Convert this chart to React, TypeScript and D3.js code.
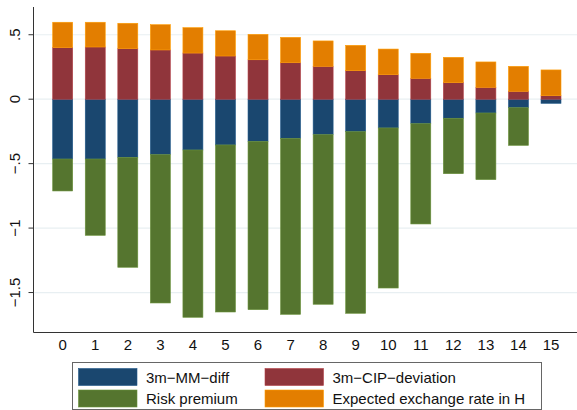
import { useEffect, useRef } from "react";
import * as d3 from "d3";

// horizons (months)
const categories = ["0", "1", "2", "3", "4", "5", "6", "7", "8", "9", "10", "11", "12", "13", "14", "15"];

// decomposition components
const mmDiff = [-0.464, -0.464, -0.451, -0.43, -0.394, -0.355, -0.327, -0.304, -0.275, -0.252, -0.223, -0.19, -0.148, -0.107, -0.066, -0.032];
const riskPremium = [-0.248, -0.592, -0.853, -1.151, -1.298, -1.296, -1.306, -1.365, -1.316, -1.409, -1.242, -0.778, -0.43, -0.517, -0.292, 0];
const cipDeviation = [0.4, 0.405, 0.392, 0.382, 0.358, 0.335, 0.306, 0.283, 0.255, 0.221, 0.19, 0.162, 0.128, 0.092, 0.061, 0.027];
const expectedRate = [0.197, 0.192, 0.197, 0.196, 0.197, 0.196, 0.197, 0.197, 0.197, 0.197, 0.199, 0.194, 0.197, 0.197, 0.194, 0.2];

const yTicks = [-1.5, -1, -0.5, 0, 0.5];
const yTickLabels = ["−1.5", "−1", "−.5", "0", ".5"];

const series = [
  { key: "mm", label: "3m−MM−diff", color: "#1a476f", values: mmDiff },
  { key: "risk", label: "Risk premium", color: "#55752f", values: riskPremium },
  { key: "cip", label: "3m−CIP−deviation", color: "#90353b", values: cipDeviation },
  { key: "exp", label: "Expected exchange rate in H", color: "#e37e00", values: expectedRate },
];

function App() {
  const ref = useRef<SVGSVGElement>(null);

  useEffect(() => {
    const width = 577;
    const height = 410;
    const font = "'Liberation Sans', Arial, sans-serif";

    const svg = d3.select(ref.current);
    svg.selectAll("*").remove();
    svg.attr("width", width).attr("height", height);

    const left = 33.5;
    const top = 7;
    const bottom = 332.5;

    const x = d3.scaleBand<string>()
      .domain(categories)
      .range([52.7, 561])
      .paddingInner(0.386)
      .paddingOuter(0);

    const y = d3.scaleLinear()
      .domain([-1.8, 0.7])
      .range([331.2, 8.97]);

    // table for the stack
    const rows = categories.map((c, i) => {
      const r: any = { cat: c };
      series.forEach(s => (r[s.key] = s.values[i]));
      return r;
    });

    const stacked = d3.stack<any>()
      .keys(series.map(s => s.key))
      .offset(d3.stackOffsetDiverging)(rows);

    // gridlines
    svg.append("g")
      .selectAll("line")
      .data(yTicks)
      .join("line")
      .attr("x1", left + 1)
      .attr("x2", width)
      .attr("y1", d => y(d))
      .attr("y2", d => y(d))
      .attr("stroke", "#e8eff2")
      .attr("stroke-width", 1.2);

    // bars
    stacked.forEach((layer, li) => {
      const color = series[li].color;
      svg.append("g")
        .selectAll("rect")
        .data(layer)
        .join("rect")
        .attr("x", d => x(d.data.cat)!)
        .attr("width", x.bandwidth())
        .attr("y", d => y(Math.max(d[0], d[1])))
        .attr("height", d => Math.abs(y(d[0]) - y(d[1])))
        .attr("fill", color)
        .attr("stroke", d3.color(color)!.brighter(0.6).formatHex())
        .attr("stroke-width", 0.6);
    });

    // axes
    svg.append("line")
      .attr("x1", left).attr("x2", left)
      .attr("y1", top).attr("y2", bottom)
      .attr("stroke", "#333").attr("stroke-width", 1);
    svg.append("line")
      .attr("x1", left).attr("x2", width)
      .attr("y1", bottom).attr("y2", bottom)
      .attr("stroke", "#333").attr("stroke-width", 1);

    // y ticks + rotated labels
    const yAxis = svg.append("g");
    yAxis.selectAll("line")
      .data(yTicks)
      .join("line")
      .attr("x1", left - 5).attr("x2", left)
      .attr("y1", d => y(d)).attr("y2", d => y(d))
      .attr("stroke", "#333");
    yAxis.selectAll("text")
      .data(yTicks)
      .join("text")
      .attr("transform", d => `translate(20,${y(d)}) rotate(-90)`)
      .attr("text-anchor", "middle")
      .style("font-family", font)
      .style("font-size", "15px")
      .attr("fill", "#111")
      .text((d, i) => yTickLabels[i]);

    // x labels
    svg.append("g")
      .selectAll("text")
      .data(categories)
      .join("text")
      .attr("x", d => x(d)! + x.bandwidth() / 2)
      .attr("y", 350)
      .attr("text-anchor", "middle")
      .style("font-family", font)
      .style("font-size", "15px")
      .attr("fill", "#111")
      .text(d => d);

    // legend
    const legend = svg.append("g");
    legend.append("rect")
      .attr("x", 72.5).attr("y", 362.5)
      .attr("width", 469).attr("height", 47)
      .attr("fill", "white")
      .attr("stroke", "#666");

    const legendOrder = [series[0], series[2], series[1], series[3]];
    const colX = [78.5, 265];
    const rowY = [368.5, 390];
    legendOrder.forEach((s, i) => {
      const cx = colX[i % 2];
      const ry = rowY[Math.floor(i / 2)];
      legend.append("rect")
        .attr("x", cx).attr("y", ry)
        .attr("width", 58.5).attr("height", 17)
        .attr("fill", s.color)
        .attr("stroke", d3.color(s.color)!.brighter(0.6).formatHex())
        .attr("stroke-width", 0.6);
      legend.append("text")
        .attr("x", cx + 67.5)
        .attr("y", ry + 14)
        .style("font-family", font)
        .style("font-size", "15px")
        .attr("fill", "#111")
        .text(s.label);
    });
  }, []);

  return <svg ref={ref} style={{ position: "absolute", left: 0, top: 0 }}></svg>;
}

export default App;
